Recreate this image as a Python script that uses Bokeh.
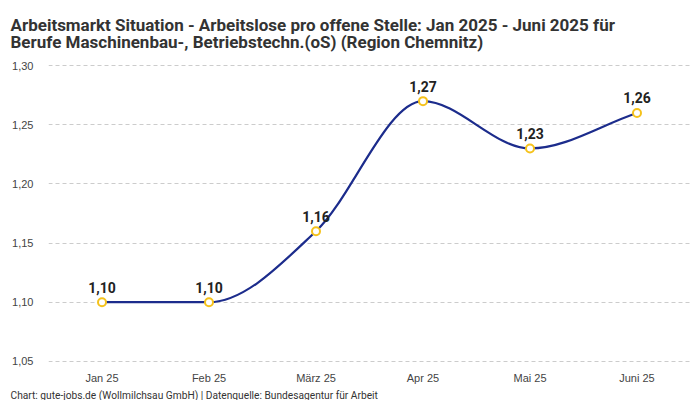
import numpy as np
from bokeh.plotting import figure
from bokeh.models import Range1d, FixedTicker, CustomJSTickFormatter, Title, ColumnDataSource
from bokeh.core.properties import value
from bokeh.embed import file_html
from bokeh.resources import INLINE

# ---- data ----
months = ["Jan 25", "Feb 25", "März 25", "Apr 25", "Mai 25", "Juni 25"]
values = [1.10, 1.10, 1.16, 1.27, 1.23, 1.26]
y_ticks = [1.05, 1.10, 1.15, 1.20, 1.25, 1.30]
title_line1 = "Arbeitsmarkt Situation - Arbeitslose pro offene Stelle: Jan 2025 - Juni 2025 für"
title_line2 = "Berufe Maschinenbau-, Betriebstechn.(oS) (Region Chemnitz)"
footer = "Chart: gute-jobs.de (Wollmilchsau GmbH) | Datenquelle: Bundesagentur für Arbeit"

# ---- monotone cubic control points (Chart.js style) ----
xs = np.arange(len(values), dtype=float)
ys = np.array(values, dtype=float)
n = len(ys)
deltas = np.diff(ys) / np.diff(xs)
m = np.zeros(n)
m[0] = deltas[0]
m[-1] = deltas[-1]
for i in range(1, n - 1):
    if deltas[i - 1] * deltas[i] <= 0:
        m[i] = 0.0
    else:
        m[i] = (deltas[i - 1] + deltas[i]) / 2
for i in range(n - 1):
    if abs(deltas[i]) < 1e-12:
        m[i] = 0.0
        m[i + 1] = 0.0
        continue
    a = m[i] / deltas[i]
    b = m[i + 1] / deltas[i]
    t = a * a + b * b
    if t > 9:
        s = 3 / np.sqrt(t)
        m[i] = s * a * deltas[i]
        m[i + 1] = s * b * deltas[i]
dx = np.diff(xs)
seg = ColumnDataSource(dict(
    x0=xs[:-1], y0=ys[:-1], x1=xs[1:], y1=ys[1:],
    cx0=xs[:-1] + dx / 3, cy0=ys[:-1] + m[:-1] * dx / 3,
    cx1=xs[1:] - dx / 3, cy1=ys[1:] - m[1:] * dx / 3,
))

pts = ColumnDataSource(dict(x=xs, y=ys, lab=[f"{v:.2f}".replace(".", ",") for v in values]))

pad = 0.001
p = figure(frame_width=642, frame_height=298, output_backend="svg", toolbar_location=None,
           x_range=Range1d(-0.5, len(months) - 0.5),
           y_range=Range1d(y_ticks[0] - pad, y_ticks[-1] + pad),
           min_border_left=48, min_border_right=10, min_border_top=64, min_border_bottom=38)
p.outline_line_color = None
p.background_fill_color = "white"
p.border_fill_color = "white"

# title (two lines) and footer
ttl = Title(text=title_line1 + "\n" + title_line2, align="left", offset=-38, text_font="Roboto",
            text_font_size="17px", text_font_style="bold", text_color="#333333",
            standoff=21, text_line_height=0.85, vertical_align="top")
p.add_layout(ttl, "above")
ft = Title(text=footer, align="left", offset=-38, text_font="Roboto", text_font_size="10.2px",
           text_font_style="normal", text_color="#333333", standoff=3)
p.add_layout(ft, "below")

# axes
p.xaxis.ticker = FixedTicker(ticks=list(range(len(months))))
p.xaxis.major_label_overrides = {i: m_ for i, m_ in enumerate(months)}
p.yaxis.ticker = FixedTicker(ticks=y_ticks)
p.yaxis.formatter = CustomJSTickFormatter(code="return tick.toFixed(2).replace('.', ',');")
for ax in (p.xaxis, p.yaxis):
    ax.axis_line_color = None
    ax.major_tick_line_color = None
    ax.minor_tick_line_color = None
    ax.major_tick_out = 0
    ax.major_tick_in = 0
    ax.minor_tick_out = 0
    ax.major_label_text_font = "Liberation Sans"
    ax.major_label_text_font_size = "11px"
    ax.major_label_text_color = "#444444"
p.yaxis.major_label_standoff = 15
p.xaxis.major_label_standoff = 9

p.xgrid.grid_line_color = None
p.ygrid.grid_line_color = "#cccccc"
p.ygrid.grid_line_dash = "4 3"
p.ygrid.grid_line_width = 1

p.bezier(x0="x0", y0="y0", x1="x1", y1="y1", cx0="cx0", cy0="cy0", cx1="cx1", cy1="cy1",
         source=seg, line_color="#1c2c8c", line_width=2.2)
p.scatter(x="x", y="y", source=pts, size=8, fill_color="white", line_color="#f5c21b", line_width=2)
p.text(x="x", y="y", text="lab", source=pts, text_align="center", text_baseline="middle", y_offset=-15,
       text_font=value("Roboto"), text_font_style="bold", text_font_size="14px", text_color="#222222")

open("out.html", "w").write(file_html(p, INLINE))
